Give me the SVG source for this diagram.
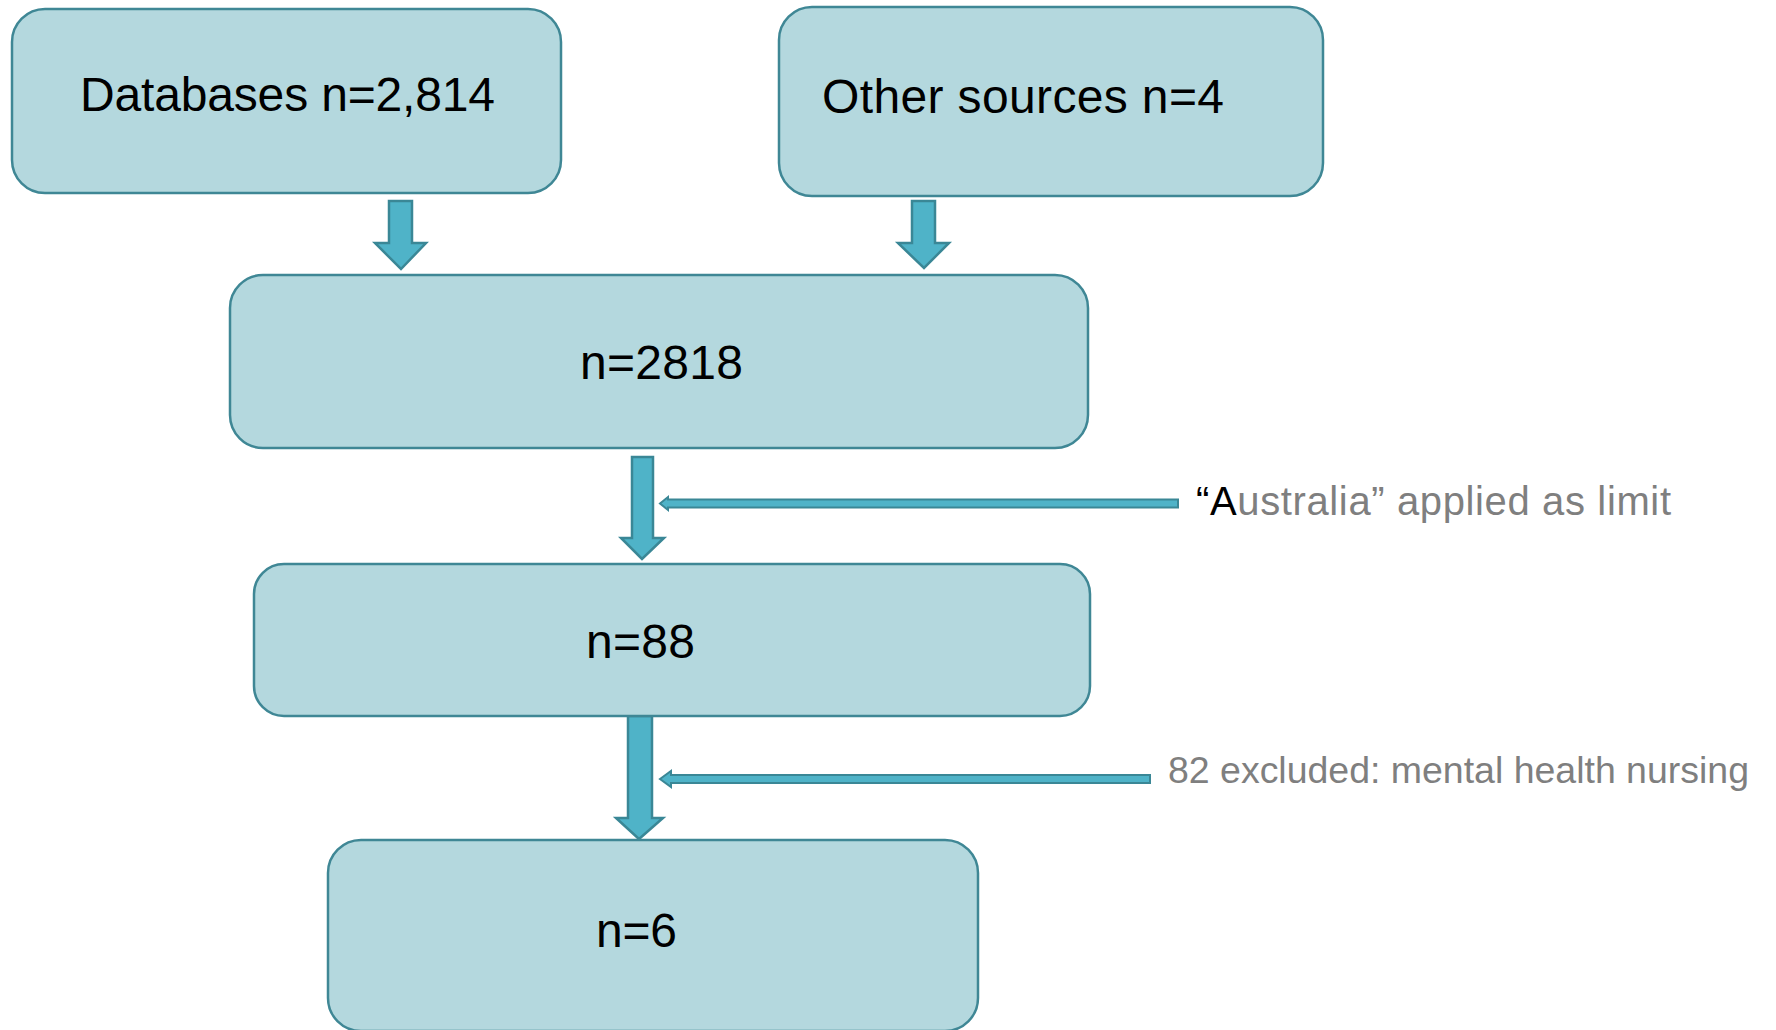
<svg xmlns="http://www.w3.org/2000/svg" width="1776" height="1030" viewBox="0 0 1776 1030">
<style>
.box{fill:#b4d8de;stroke:#3f8795;stroke-width:2.5}
.arr{fill:#4fb3c8;stroke:#3a8796;stroke-width:2.5;stroke-linejoin:miter}
.harr{fill:#4fb3c8;stroke:#3a8796;stroke-width:2}
.t{font-family:"Liberation Sans",Arial,sans-serif;font-size:48px;fill:#000}
.lbl{font-family:"Liberation Sans",Arial,sans-serif;fill:#7f7f7f}
</style>
<rect width="1776" height="1030" fill="#ffffff"/>
<g id="connectors">
<polygon class="arr" points="389,201 412,201 412,243 426,243 401,269 375,243 389,243"/>
<polygon class="arr" points="912,201 935,201 935,243 949,243 924,268 898,243 912,243"/>
<polygon class="arr" points="632,457 653,457 653,538 664,538 642,559 621,538 632,538"/>
<polygon class="arr" points="628,716 652,716 652,818 663,818 639,839 616,818 628,818"/>
<polygon class="harr" points="660,503.5 668,497 668,499.5 1178,499.5 1178,507.5 668,507.5 668,510"/>
<polygon class="harr" points="660,779 671,771 671,775 1150,775 1150,783 671,783 671,787"/>
</g>
<g id="node-databases">
<rect class="box" x="12" y="9" width="549" height="184" rx="33" ry="33"/>
<text class="t" x="80" y="111" textLength="415">Databases n=2,814</text>
</g>
<g id="node-other">
<rect class="box" x="779" y="7" width="544" height="189" rx="33" ry="33"/>
<text class="t" x="822" y="113" textLength="402">Other sources n=4</text>
</g>
<g id="node-2818">
<rect class="box" x="230" y="275" width="858" height="173" rx="33" ry="33"/>
<text class="t" x="580" y="379" textLength="163">n=2818</text>
</g>
<g id="node-88">
<rect class="box" x="254" y="564" width="836" height="152" rx="30" ry="30"/>
<text class="t" x="586" y="658" textLength="109">n=88</text>
</g>
<g id="node-6">
<rect class="box" x="328" y="840" width="650" height="191" rx="33" ry="33"/>
<text class="t" x="596" y="947" textLength="81">n=6</text>
</g>
<g id="label-australia">
<text class="lbl" x="1196" y="515" font-size="40" textLength="475"><tspan fill="#000">“A</tspan>ustralia” applied as limit</text>
</g>
<g id="label-excluded">
<text class="lbl" x="1168" y="783" font-size="37.5" textLength="581">82 excluded: mental health nursing</text>
</g>
</svg>
